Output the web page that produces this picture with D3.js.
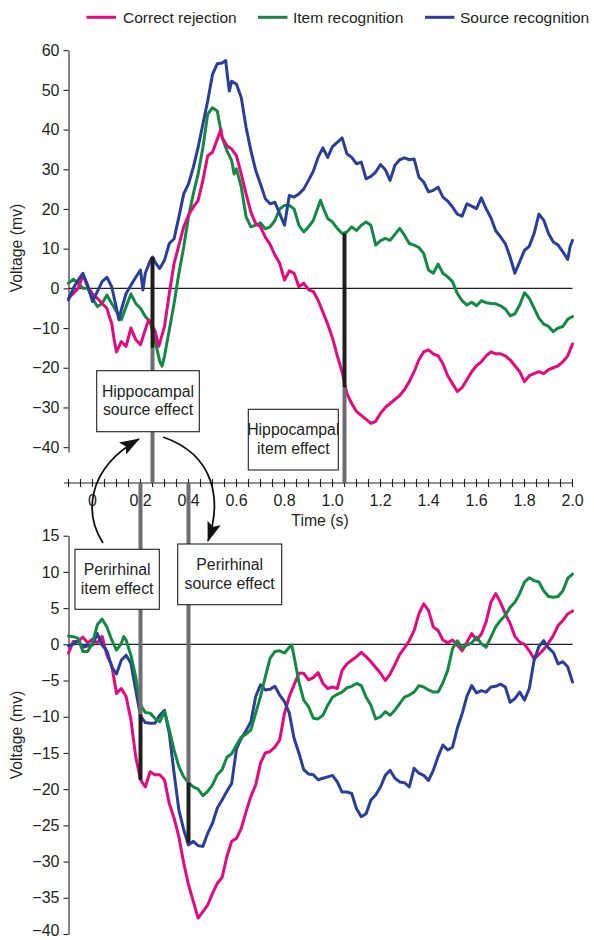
<!DOCTYPE html>
<html>
<head>
<meta charset="utf-8">
<script src="https://cdn.jsdelivr.net/npm/d3@7"></script>
<style>
  body { margin: 0; background: #fff; }
  svg { display: block; }
  text { font-family: "Liberation Sans", Arial, Helvetica, sans-serif; fill: #231f20; }
</style>
</head>
<body>
<svg id="chart" width="594" height="940"></svg>
<script>
// ---- series names and colours ----
const seriesNames = ["Correct rejection", "Item recognition", "Source recognition"];
const seriesColors = ["#e5097f", "#138a44", "#2a3f96"];

// ---- hippocampal ERPs (time in s, voltage) ----
const hippoCorrect = [[-0.10,-2.5],[-0.08,-1.3],[-0.06,0],[-0.04,3.3],[-0.02,0.4],[0,-1.4],[0.02,-2.5],[0.04,-3.8],[0.06,-5],[0.07,-7.1],[0.08,-8.8],[0.09,-12.9],[0.10,-16],[0.12,-13.4],[0.14,-14.6],[0.16,-10],[0.18,-12.9],[0.20,-14.2],[0.22,-10.4],[0.234,-7.9],[0.25,-9.6],[0.26,-10.6],[0.276,-14.6],[0.30,-9.6],[0.32,-1.3],[0.34,6.3],[0.36,10.9],[0.38,15.5],[0.40,18.4],[0.42,20.5],[0.44,22.1],[0.46,27.2],[0.48,33.4],[0.50,34.3],[0.52,37.6],[0.535,40.1],[0.54,38],[0.56,35.9],[0.58,35.1],[0.60,33.4],[0.62,28.8],[0.64,23.8],[0.66,19.2],[0.68,16.3],[0.70,15.5],[0.72,12.9],[0.74,11.1],[0.76,8.4],[0.78,6.3],[0.80,2.1],[0.82,4.4],[0.84,3.8],[0.86,0.4],[0.88,1.3],[0.90,-0.3],[0.92,-0.8],[0.94,-3],[0.96,-6],[0.98,-9],[1.00,-12.5],[1.02,-17],[1.04,-21],[1.06,-26.5],[1.08,-29],[1.10,-31],[1.12,-32],[1.14,-33],[1.16,-34],[1.18,-33.5],[1.20,-31.5],[1.22,-30],[1.24,-29],[1.26,-28],[1.28,-27],[1.30,-25.5],[1.32,-23.5],[1.34,-21],[1.36,-18],[1.38,-16],[1.40,-15.5],[1.42,-16.5],[1.44,-17],[1.46,-19],[1.48,-22],[1.50,-24],[1.52,-26],[1.54,-25],[1.56,-23],[1.58,-21],[1.60,-19.5],[1.62,-18.5],[1.64,-17],[1.66,-16],[1.68,-16.5],[1.70,-16.5],[1.72,-17],[1.74,-18],[1.76,-19.5],[1.78,-21],[1.80,-23.5],[1.82,-22],[1.84,-21.5],[1.86,-21],[1.88,-21.5],[1.90,-20.5],[1.92,-20],[1.94,-19.5],[1.96,-18.5],[1.98,-17],[2.00,-14]];

const hippoItem = [[-0.10,1.3],[-0.08,2.3],[-0.06,1.3],[-0.04,0],[-0.02,0],[0,-2.5],[0.02,-4.6],[0.04,-3.8],[0.06,-1.7],[0.08,-3.8],[0.10,-5.8],[0.12,-7.9],[0.14,-4.6],[0.16,-1.4],[0.18,-3.8],[0.20,-5],[0.22,-7.1],[0.24,-8.4],[0.26,-13],[0.28,-18.4],[0.29,-19.6],[0.30,-17.1],[0.32,-10.4],[0.34,-3.8],[0.36,3.8],[0.38,10.4],[0.40,18],[0.42,23.8],[0.44,28.8],[0.46,35.5],[0.48,43.9],[0.50,45.5],[0.52,44.7],[0.54,38],[0.56,34.7],[0.58,32.2],[0.59,28.8],[0.60,30.1],[0.62,25.5],[0.64,18],[0.66,15.5],[0.68,15.9],[0.70,16.5],[0.72,15],[0.74,15.5],[0.76,17.1],[0.78,20],[0.80,20.9],[0.82,20.9],[0.84,20],[0.86,15.9],[0.88,14.2],[0.90,15.5],[0.92,17.1],[0.94,20.5],[0.95,22.2],[0.96,20.5],[0.98,17.6],[1.00,16.7],[1.02,15.1],[1.04,13.8],[1.06,14.2],[1.08,15.5],[1.10,14.6],[1.12,15.9],[1.14,16.7],[1.16,15.9],[1.18,10.9],[1.20,12],[1.22,12.6],[1.24,12.1],[1.26,13.6],[1.28,15.1],[1.30,13.4],[1.32,11.3],[1.34,10.9],[1.36,10.3],[1.38,8.8],[1.40,4.6],[1.42,3.8],[1.44,6.1],[1.46,3.8],[1.48,2.9],[1.50,1.7],[1.52,-1.3],[1.54,-3.1],[1.56,-4.2],[1.58,-3.5],[1.60,-4.4],[1.62,-3.1],[1.64,-3.6],[1.66,-3.8],[1.68,-3.9],[1.70,-4.4],[1.72,-5.2],[1.74,-6.9],[1.76,-6.4],[1.78,-4.2],[1.80,-1.1],[1.82,-2.5],[1.84,-5],[1.86,-7.5],[1.88,-9],[1.90,-9.6],[1.92,-10.9],[1.94,-10],[1.96,-9.6],[1.98,-7.8],[2.00,-7.1]];

const hippoSource = [[-0.10,-2.9],[-0.08,0],[-0.06,2.1],[-0.04,3.8],[-0.02,0.8],[0,-3.3],[0.02,-0.8],[0.04,1.7],[0.06,2.8],[0.08,0.4],[0.10,-5],[0.11,-7.9],[0.12,-5.4],[0.14,-1.3],[0.16,0.8],[0.18,2.8],[0.20,4.6],[0.21,-0.4],[0.22,3.8],[0.24,6.9],[0.25,7.9],[0.26,6.7],[0.28,5],[0.30,7.1],[0.32,11.3],[0.34,12.5],[0.36,18],[0.38,23.8],[0.40,26.3],[0.42,30.5],[0.44,35.5],[0.46,41.4],[0.48,47.2],[0.50,53.9],[0.52,56.6],[0.54,56.8],[0.555,57.4],[0.56,54.7],[0.57,49.7],[0.58,52.2],[0.60,51.4],[0.62,48],[0.64,40.5],[0.66,34.7],[0.68,29.7],[0.70,26.3],[0.72,22.6],[0.74,21.3],[0.76,21.7],[0.78,18.8],[0.80,15.9],[0.82,23.4],[0.84,23],[0.86,23.8],[0.88,25],[0.90,27.2],[0.92,29.5],[0.94,33],[0.96,35.4],[0.98,33],[1.00,35.7],[1.02,36.8],[1.04,37.9],[1.06,33.9],[1.08,33],[1.10,31.4],[1.12,31.8],[1.14,27.6],[1.16,28.2],[1.18,29.3],[1.20,31.2],[1.22,29.9],[1.24,27.2],[1.26,31],[1.28,32.4],[1.30,32.9],[1.32,32.4],[1.34,32.6],[1.36,28],[1.38,26.8],[1.40,24.3],[1.42,24.7],[1.44,25.5],[1.46,23],[1.48,22],[1.50,20.5],[1.52,18.7],[1.54,18.2],[1.56,21.3],[1.58,20.7],[1.60,20.1],[1.62,22.8],[1.64,20.1],[1.66,17.8],[1.68,14.5],[1.70,13],[1.72,11.3],[1.74,7.9],[1.76,3.8],[1.78,6.7],[1.80,9.6],[1.82,10.6],[1.84,13.8],[1.86,18.7],[1.88,17.2],[1.90,13.8],[1.92,11.7],[1.94,10.9],[1.96,9.2],[1.98,7.3],[1.99,10.5],[2.00,12.1]];

// ---- perirhinal ERPs (time in s, voltage) ----
const periCorrect = [[-0.10,-1.2],[-0.08,0.4],[-0.06,0.4],[-0.04,1],[-0.02,0.2],[0,0.7],[0.02,0.2],[0.04,1.1],[0.06,-1.5],[0.08,-2.9],[0.10,-6.8],[0.12,-6.1],[0.14,-7.2],[0.16,-10.4],[0.18,-15.5],[0.20,-18.7],[0.22,-19.7],[0.24,-17.6],[0.26,-18],[0.28,-18],[0.30,-18.7],[0.32,-22],[0.34,-24],[0.36,-26.6],[0.38,-30.2],[0.40,-33.2],[0.42,-35.5],[0.44,-37.8],[0.46,-36.9],[0.48,-36],[0.50,-34.4],[0.52,-33],[0.54,-32.2],[0.56,-29.3],[0.58,-27.2],[0.60,-26.8],[0.62,-25.4],[0.64,-23.1],[0.66,-21],[0.68,-19.4],[0.70,-16.4],[0.72,-15],[0.74,-14.8],[0.76,-14.2],[0.78,-13.2],[0.80,-9.5],[0.82,-7.2],[0.84,-5.6],[0.86,-4],[0.88,-4],[0.90,-4.9],[0.92,-4.6],[0.94,-3.9],[0.96,-5.4],[0.98,-6.1],[1.00,-5.9],[1.02,-6.1],[1.04,-3.6],[1.06,-2.7],[1.08,-2.2],[1.10,-1.7],[1.12,-1.1],[1.14,-1.7],[1.16,-2.4],[1.18,-3.2],[1.20,-4],[1.22,-5],[1.24,-4.1],[1.26,-2.8],[1.28,-1.4],[1.30,-0.5],[1.32,0.5],[1.34,1.9],[1.36,4.2],[1.38,5.6],[1.40,4.7],[1.42,2.4],[1.44,1.9],[1.46,0.6],[1.48,0.2],[1.50,0.6],[1.52,-0.1],[1.54,-0.9],[1.56,0.3],[1.58,1.5],[1.60,0.6],[1.62,1.4],[1.64,3.1],[1.66,5.8],[1.68,7],[1.70,5.8],[1.72,4.2],[1.74,2.9],[1.76,1.1],[1.78,0.3],[1.80,0],[1.82,-0.9],[1.84,-2],[1.86,-1.4],[1.88,-0.7],[1.90,0.2],[1.92,1.2],[1.94,2.6],[1.96,3.3],[1.98,4.2],[2.00,4.6]];

const periItem = [[-0.10,1.15],[-0.08,1.06],[-0.06,0.83],[-0.04,-1],[-0.02,-1],[0,0.2],[0.02,2.7],[0.04,3.5],[0.06,2.4],[0.08,0.6],[0.10,-0.8],[0.12,0.1],[0.13,1.06],[0.14,0.6],[0.16,-1.5],[0.18,-4.5],[0.20,-8.4],[0.22,-9.4],[0.24,-9.5],[0.26,-10.2],[0.28,-10.7],[0.30,-9.3],[0.32,-11.8],[0.34,-14.6],[0.36,-16.9],[0.38,-18.3],[0.40,-19.1],[0.42,-19.7],[0.44,-20],[0.46,-20.9],[0.48,-20.3],[0.50,-19.4],[0.52,-18],[0.54,-17.3],[0.56,-15.6],[0.58,-15.1],[0.60,-13.9],[0.62,-12.8],[0.64,-12.4],[0.66,-11.8],[0.68,-9.5],[0.70,-7.2],[0.72,-4.5],[0.74,-1.9],[0.76,-1],[0.78,-0.9],[0.80,-1.2],[0.82,-0.4],[0.83,-0.1],[0.84,-1.7],[0.86,-5.2],[0.88,-7.7],[0.90,-8.6],[0.92,-10.2],[0.94,-10.3],[0.96,-9.8],[0.98,-8.4],[1.00,-7.3],[1.02,-6.9],[1.04,-6.6],[1.06,-6],[1.08,-5.8],[1.10,-5.4],[1.12,-5.7],[1.14,-7.3],[1.16,-8.4],[1.18,-10.3],[1.20,-10],[1.22,-9.3],[1.24,-9.8],[1.26,-9.1],[1.28,-8.2],[1.30,-7.3],[1.32,-7],[1.34,-6.6],[1.36,-5.7],[1.38,-5.9],[1.40,-6.3],[1.42,-6.6],[1.44,-6.6],[1.46,-5.3],[1.48,-3.6],[1.50,-0.6],[1.52,0.5],[1.54,-0.5],[1.56,-0.1],[1.58,0.2],[1.60,1],[1.62,0.1],[1.64,-0.4],[1.66,1],[1.68,2.4],[1.70,3.3],[1.72,4],[1.74,5.1],[1.76,5.8],[1.78,7],[1.80,8.6],[1.82,9.2],[1.84,8.8],[1.86,8.6],[1.88,7.4],[1.90,6.6],[1.92,6.5],[1.94,6.6],[1.96,7.4],[1.98,9.1],[2.00,9.7]];

const periSource = [[-0.10,-0.2],[-0.08,0],[-0.06,0.5],[-0.04,-0.4],[-0.02,-0.2],[0,-0.1],[0.02,1.5],[0.04,-0.1],[0.06,-0.9],[0.08,-3.1],[0.10,-4.1],[0.12,-2.2],[0.14,-1.5],[0.16,-2.6],[0.18,-6.3],[0.20,-9.9],[0.22,-10.8],[0.24,-10.9],[0.26,-10.9],[0.28,-9.8],[0.30,-9.1],[0.32,-12.3],[0.34,-17.8],[0.36,-22.9],[0.38,-25.6],[0.40,-27.7],[0.42,-27.2],[0.44,-27.8],[0.46,-27.9],[0.48,-26.1],[0.50,-24.7],[0.52,-22.6],[0.54,-21.5],[0.56,-20.3],[0.58,-19.2],[0.60,-14.4],[0.62,-13],[0.64,-11.9],[0.66,-10.7],[0.68,-7.2],[0.70,-5.6],[0.72,-6.3],[0.74,-6.2],[0.76,-5.8],[0.78,-7],[0.80,-7.9],[0.82,-9.5],[0.84,-13],[0.86,-15],[0.88,-17.3],[0.90,-17.9],[0.92,-18],[0.94,-18.7],[0.96,-18.5],[0.98,-18.3],[1.00,-18.1],[1.02,-19],[1.04,-20.4],[1.06,-20.4],[1.08,-20.6],[1.10,-22.7],[1.12,-23.8],[1.14,-23.4],[1.16,-21.5],[1.18,-20.8],[1.20,-19.7],[1.22,-18.1],[1.24,-17.4],[1.26,-18.5],[1.28,-19],[1.30,-19.1],[1.32,-19.7],[1.34,-17.1],[1.36,-17.8],[1.38,-18.1],[1.40,-18.8],[1.42,-17.4],[1.44,-15.5],[1.46,-13.9],[1.48,-14.6],[1.50,-14.2],[1.52,-11.6],[1.54,-9.6],[1.56,-7.2],[1.58,-5.7],[1.60,-6.7],[1.62,-6.4],[1.64,-6.6],[1.66,-5.9],[1.68,-5.8],[1.70,-5.5],[1.72,-5.9],[1.74,-8],[1.76,-7.5],[1.78,-6.6],[1.80,-7.7],[1.82,-6.1],[1.84,-2.2],[1.86,-0.3],[1.88,0.5],[1.90,-0.5],[1.92,-1.1],[1.94,-2.7],[1.96,-2.4],[1.98,-3.1],[2.00,-5.2]];

// ---- axis ticks ----
const hippoTicks = [-40, -30, -20, -10, 0, 10, 20, 30, 40, 50, 60];
const periTicks = [-40, -35, -30, -25, -20, -15, -10, -5, 0, 5, 10, 15];
const timeLabels = [0, 0.2, 0.4, 0.6, 0.8, 1.0, 1.2, 1.4, 1.6, 1.8, 2.0];

// ---- effect markers: time, black span (from, to) ----
const hippoEffects = [
  { name: ["Hippocampal", "source effect"], t: 0.25, from: 7.9, to: -15 },
  { name: ["Hippocampal", "item effect"], t: 1.05, from: 13.8, to: -25 }
];
const periEffects = [
  { name: ["Perirhinal", "item effect"], t: 0.2, from: -9.7, to: -18.7 },
  { name: ["Perirhinal", "source effect"], t: 0.4, from: -19.1, to: -27.4 }
];

// ---------------------------------------------------------------
const svg = d3.select("#chart");
const FONT = 15.8;

const x = d3.scaleLinear().domain([-0.1, 2.0]).range([68.5, 572.5]);
const yTop = d3.scaleLinear().domain([-41.2, 60]).range([451.9, 50.2]);
const yBot = d3.scaleLinear().domain([-40, 15]).range([934, 535.7]);
const timeAxisY = 483;

// legend
const legendItems = [
  { x: 86.5, tx: 123 },
  { x: 258, tx: 293 },
  { x: 425, tx: 460 }
];
const legend = svg.append("g");
seriesNames.forEach((name, i) => {
  legend.append("line")
    .attr("x1", legendItems[i].x).attr("x2", legendItems[i].x + 29.5)
    .attr("y1", 17.3).attr("y2", 17.3)
    .attr("stroke", seriesColors[i]).attr("stroke-width", 3);
  legend.append("text")
    .attr("x", legendItems[i].tx).attr("y", 22.6)
    .attr("font-size", 15.5)
    .text(name);
});

// y axes
function drawYAxis(scale, ticks, labelY) {
  const g = svg.append("g").attr("transform", "translate(68.5,0)")
    .call(d3.axisLeft(scale).tickValues(ticks).tickSize(5).tickSizeOuter(0).tickPadding(4));
  g.select(".domain").attr("stroke", "#231f20").attr("stroke-width", 1.1);
  g.selectAll(".tick line").attr("stroke", "#231f20").attr("stroke-width", 1.1);
  g.selectAll(".tick text").attr("font-size", 16).attr("fill", "#231f20")
    .attr("font-family", "'Liberation Sans', Arial, sans-serif");
  svg.append("text")
    .attr("transform", `translate(21.5,${labelY}) rotate(-90)`)
    .attr("text-anchor", "middle")
    .attr("font-size", FONT)
    .text("Voltage (mv)");
  return g;
}
drawYAxis(yTop, hippoTicks, 248);
const botAxis = drawYAxis(yBot, periTicks, 735);
// the lowest label sits at the page edge; lift it a little so it stays whole
botAxis.selectAll(".tick text").filter(d => d === -40).attr("dy", "0.12em");

// zero lines
[yTop, yBot].forEach(s => {
  svg.append("line")
    .attr("x1", x(-0.1)).attr("x2", x(2.0))
    .attr("y1", s(0)).attr("y2", s(0))
    .attr("stroke", "#231f20").attr("stroke-width", 1.1);
});

// traces
function drawTrace(data, scale, color) {
  const line = d3.line().x(d => x(d[0])).y(d => scale(d[1]));
  svg.append("path").datum(data)
    .attr("d", line)
    .attr("fill", "none")
    .attr("stroke", color)
    .attr("stroke-width", 3)
    .attr("stroke-linejoin", "round")
    .attr("stroke-linecap", "round");
}
drawTrace(hippoItem, yTop, seriesColors[1]);
drawTrace(hippoCorrect, yTop, seriesColors[0]);
drawTrace(hippoSource, yTop, seriesColors[2]);
drawTrace(periCorrect, yBot, seriesColors[0]);
drawTrace(periSource, yBot, seriesColors[2]);
drawTrace(periItem, yBot, seriesColors[1]);

// shared time axis between the panels
const tAxis = svg.append("g");
tAxis.append("line")
  .attr("x1", 64).attr("x2", x(2.0))
  .attr("y1", timeAxisY).attr("y2", timeAxisY)
  .attr("stroke", "#231f20").attr("stroke-width", 1.1);
const minorTicks = x.ticks(42);
tAxis.selectAll("line.tk").data(minorTicks).join("line")
  .attr("class", "tk")
  .attr("x1", d => x(d)).attr("x2", d => x(d))
  .attr("y1", timeAxisY - 4).attr("y2", timeAxisY + 4)
  .attr("stroke", "#231f20").attr("stroke-width", 1.1);
tAxis.selectAll("text.tl").data(timeLabels).join("text")
  .attr("class", "tl")
  .attr("x", d => x(d)).attr("y", timeAxisY + 23)
  .attr("text-anchor", "middle")
  .attr("font-size", 16)
  .text(d => d === 0 ? "0" : d3.format(".1f")(d));
tAxis.append("text")
  .attr("x", 320).attr("y", 525.5)
  .attr("text-anchor", "middle")
  .attr("font-size", FONT)
  .text("Time (s)");

// effect bars: grey from the time axis, black over the measured span
const BAR_W = 4;
hippoEffects.forEach(e => {
  svg.append("line")
    .attr("x1", x(e.t)).attr("x2", x(e.t))
    .attr("y1", yTop(e.to)).attr("y2", timeAxisY)
    .attr("stroke", "#6e6e6e").attr("stroke-width", BAR_W);
  svg.append("line")
    .attr("x1", x(e.t)).attr("x2", x(e.t))
    .attr("y1", yTop(e.from)).attr("y2", yTop(e.to))
    .attr("stroke", "#1e1e1e").attr("stroke-width", BAR_W);
});
periEffects.forEach(e => {
  svg.append("line")
    .attr("x1", x(e.t)).attr("x2", x(e.t))
    .attr("y1", timeAxisY).attr("y2", yBot(e.from))
    .attr("stroke", "#6e6e6e").attr("stroke-width", BAR_W);
  svg.append("line")
    .attr("x1", x(e.t)).attr("x2", x(e.t))
    .attr("y1", yBot(e.from)).attr("y2", yBot(e.to))
    .attr("stroke", "#1e1e1e").attr("stroke-width", BAR_W);
});

// label boxes
const boxes = [
  { label: hippoEffects[0].name, x: 96.7, y: 370.7, w: 102.6, h: 61 },
  { label: hippoEffects[1].name, x: 248.3, y: 409.3, w: 90, h: 60.7 },
  { label: periEffects[0].name, x: 75, y: 549.3, w: 84.3, h: 60 },
  { label: periEffects[1].name, x: 177.7, y: 544, w: 104, h: 60.7 }
];
boxes.forEach(b => {
  svg.append("rect")
    .attr("x", b.x).attr("y", b.y).attr("width", b.w).attr("height", b.h)
    .attr("fill", "#fff").attr("stroke", "#231f20").attr("stroke-width", 1.1);
  b.label.forEach((ln, i) => {
    svg.append("text")
      .attr("x", b.x + b.w / 2).attr("y", b.y + 26 + i * 18.5)
      .attr("text-anchor", "middle")
      .attr("font-size", FONT)
      .text(ln);
  });
});

// curved arrows linking the effects
const defs = svg.append("defs");
defs.append("marker")
  .attr("id", "head")
  .attr("viewBox", "0 0 20 14")
  .attr("refX", 19).attr("refY", 7)
  .attr("markerWidth", 20).attr("markerHeight", 14)
  .attr("markerUnits", "userSpaceOnUse")
  .attr("orient", "auto")
  .append("path").attr("d", "M0,0 L20,7 L0,14 L4,7 Z").attr("fill", "#111");
const arrows = [
  "M103,543 C85,515 85,470 139,439",
  "M163,437 C215,455 222,500 208,541"
];
arrows.forEach(d => {
  svg.append("path").attr("d", d)
    .attr("fill", "none").attr("stroke", "#111").attr("stroke-width", 1.8)
    .attr("marker-end", "url(#head)");
});
</script>
</body>
</html>
